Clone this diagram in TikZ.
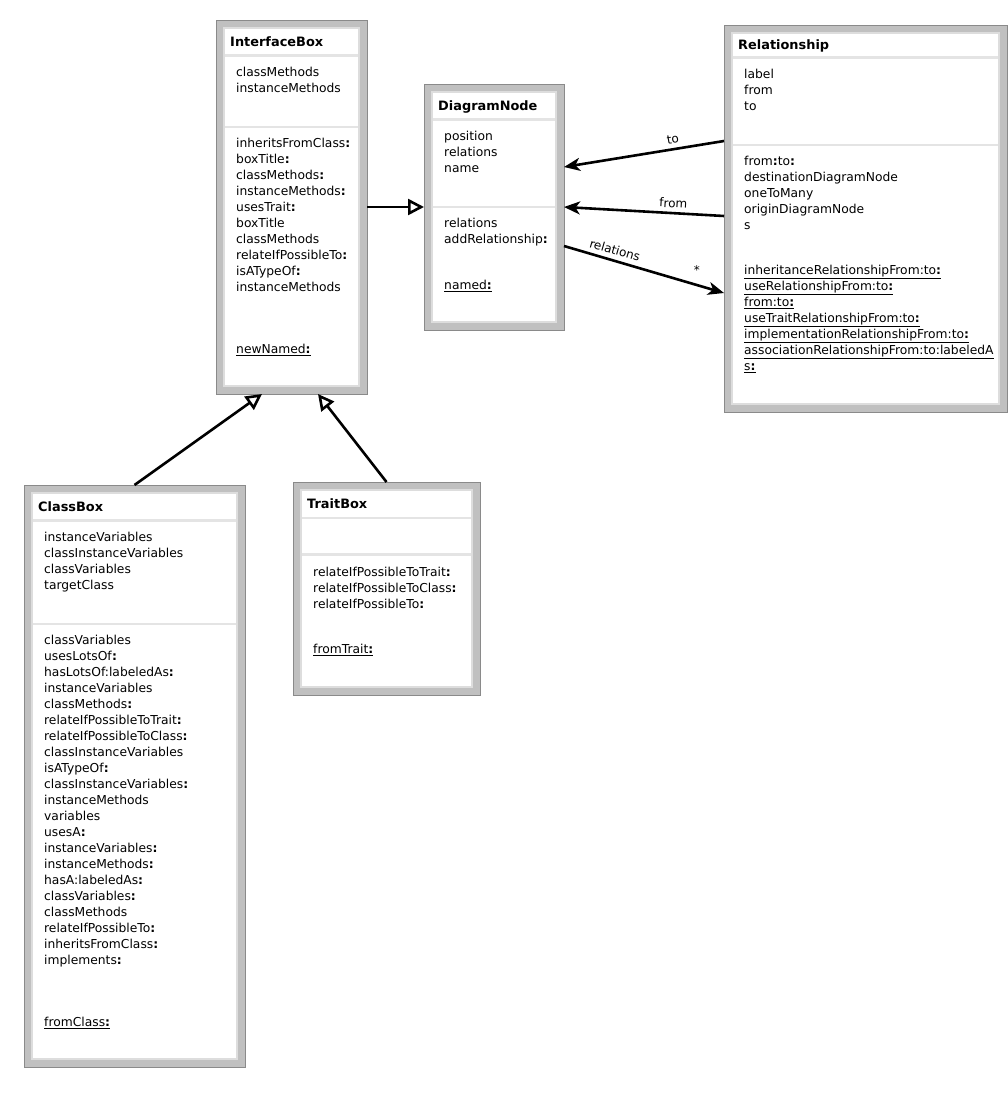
\documentclass[tikz,border=0pt]{standalone}
\usepackage{fontspec}
\setmainfont{DejaVu Sans}
\usetikzlibrary{arrows.meta,calc}
\definecolor{framegray}{HTML}{C0C0C0}
\definecolor{edgegray}{HTML}{8A8A8A}
\definecolor{sepgray}{HTML}{E4E4E4}
\definecolor{innergray}{HTML}{DDDDDD}
\newcommand{\bc}{\textbf{:}}
\newcommand{\uln}[1]{\underline{#1}}
\tikzset{
  txt/.style={anchor=north west, inner sep=0pt, align=left, font=\fontsize{12.3}{16}\selectfont},
  ttl/.style={anchor=base west, inner sep=0pt, font=\fontsize{12.9}{16}\selectfont\bfseries},
  conn/.style={line width=2.6pt, black},
  inh/.style={conn, -{Triangle[open,length=16pt,width=16pt,line width=2.6pt,fill=white]}},
  assoc/.style={conn, -{Stealth[length=16pt,width=13pt,inset=4.5pt]}},
  lbl/.style={font=\fontsize{12}{14}\selectfont, inner sep=1pt, text=black},
  boxframe/.style={draw=edgegray, line width=1pt, fill=framegray, inner sep=0pt, outer sep=0pt, rectangle},
}
% name, x1, y1, x2, y2, sep1, sep2, title
\newcommand{\umlbox}[8]{%
  \node[boxframe, minimum width={(#4-#2)*1pt}, minimum height={(#5-#3)*1pt}] (#1) at ({(#2+#4)/2},{(#3+#5)/2}) {};
  \fill[white, draw=innergray, line width=1.5pt] ({#2+8},{#3+8}) rectangle ({#4-8},{#5-8});
  \draw[sepgray, line width=2.5pt] ({#2+8.75},#6) -- ({#4-8.75},#6);
  \draw[sepgray, line width=2.5pt] ({#2+8.75},#7) -- ({#4-8.75},#7);
  \node[ttl] (#1-title) at ({#2+14},{(#3+8+#6)/2+4.5}) {#8};
}
\begin{document}
\begin{tikzpicture}[x=1pt,y=-1pt]
\useasboundingbox[fill=white] (0,0) rectangle (1008,1098);

% InterfaceBox
\umlbox{iface}{216}{20}{367}{394}{55.5}{127}{InterfaceBox}
\node[txt] (iface-attr) at (236,{71-6}) {\strut classMethods\\instanceMethods};
\node[txt] (iface-meth) at (236,{142-6}) {\strut inheritsFromClass\bc\\boxTitle\bc\\classMethods\bc\\instanceMethods\bc\\usesTrait\bc\\boxTitle\\classMethods\\relateIfPossibleTo\bc\\isATypeOf\bc\\instanceMethods};
\node[txt] (iface-cls) at (236,{348-6}) {\strut\uln{newNamed\bc}};

% DiagramNode
\umlbox{dn}{424}{84}{564}{330}{119.5}{207}{DiagramNode}
\node[txt] (dn-attr) at (444,{135-6}) {\strut position\\relations\\name};
\node[txt] (dn-meth) at (444,{222-6}) {\strut relations\\addRelationship\bc};
\node[txt] (dn-cls) at (444,{284-6}) {\strut\uln{named\bc}};

% Relationship
\umlbox{rel}{724}{25}{1007}{412}{57.5}{145}{Relationship}
\node[txt] (rel-attr) at (744,{73-6}) {\strut label\\from\\to};
\node[txt] (rel-meth) at (744,{160-6}) {\strut from\bc to\bc\\destinationDiagramNode\\oneToMany\\originDiagramNode\\s};
\node[txt] (rel-cls) at (744,{269-6}) {\strut\uln{inheritanceRelationshipFrom:to\bc}\\\uln{useRelationshipFrom:to\bc}\\\uln{from:to\bc}\\\uln{useTraitRelationshipFrom:to\bc}\\\uln{implementationRelationshipFrom:to\bc}\\\uln{associationRelationshipFrom:to:labeledA}\\\uln{s\bc}};

% ClassBox
\umlbox{cb}{24}{485}{245}{1067}{520.5}{624}{ClassBox}
\node[txt] (cb-attr) at (44,{536-6}) {\strut instanceVariables\\classInstanceVariables\\classVariables\\targetClass};
\node[txt] (cb-meth) at (44,{639-6}) {\strut classVariables\\usesLotsOf\bc\\hasLotsOf:labeledAs\bc\\instanceVariables\\classMethods\bc\\relateIfPossibleToTrait\bc\\relateIfPossibleToClass\bc\\classInstanceVariables\\isATypeOf\bc\\classInstanceVariables\bc\\instanceMethods\\variables\\usesA\bc\\instanceVariables\bc\\instanceMethods\bc\\hasA:labeledAs\bc\\classVariables\bc\\classMethods\\relateIfPossibleTo\bc\\inheritsFromClass\bc\\implements\bc};
\node[txt] (cb-cls) at (44,{1021-6}) {\strut\uln{fromClass\bc}};

% TraitBox
\umlbox{tb}{293}{482}{480}{695}{518}{554.5}{TraitBox}
\node[txt] (tb-meth) at (313,{571-6}) {\strut relateIfPossibleToTrait\bc\\relateIfPossibleToClass\bc\\relateIfPossibleTo\bc};
\node[txt] (tb-cls) at (313,{648-6}) {\strut\uln{fromTrait\bc}};

% Inheritance
\draw[inh] (iface.east |- dn.west) -- (dn.west);
\draw[inh] (cb.north) -- ([xshift=-29.5pt]iface.south);
\draw[inh] (tb.north) -- ([xshift=26.5pt]iface.south);

% Associations
\draw[assoc] ([yshift=77.5pt]rel.west) -- node[lbl, pos=0.31, sloped, above=3pt] (lto) {to} ([yshift=40pt]dn.east);
\draw[assoc] ([yshift=2.5pt]rel.west) -- node[lbl, pos=0.32, sloped, above=3pt] (lfrom) {from} (dn.east);
\draw[assoc] ([yshift=-39pt]dn.east) -- node[lbl, pos=0.3, sloped, above=3.5pt] (lrel) {relations} node[lbl, pos=0.83, above=8pt] (lstar) {*} ([yshift=-74.5pt]rel.west);
\end{tikzpicture}
\end{document}
